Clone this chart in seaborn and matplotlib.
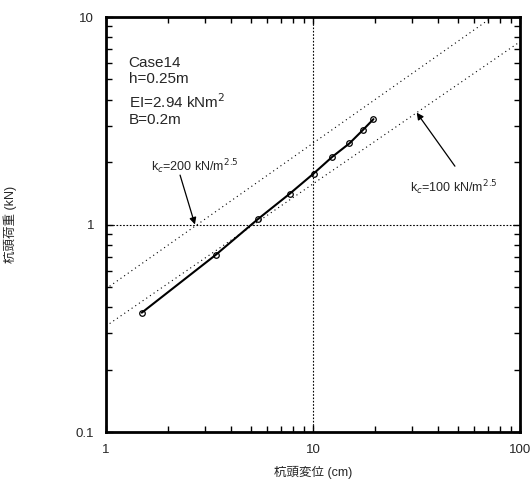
import numpy as np
import pandas as pd
import matplotlib
matplotlib.use("Agg")
import matplotlib.pyplot as plt
import seaborn as sns

# data
disp_cm = [1.49, 3.39, 5.41, 7.74, 10.07, 12.4, 15.0, 17.4, 19.6]
load_kN = [0.376, 0.714, 1.06, 1.41, 1.76, 2.12, 2.46, 2.85, 3.22]

ref_x = [1, 100]
ref_kc200 = [0.49, 12.4]
ref_kc100 = [0.324, 7.6]

xticks = [1, 10, 100]
xticklabels = ["1", "10", "100"]
yticks = [0.1, 1, 10]
yticklabels = ["0.1", "1", "10"]

sns.set_style("ticks")
plt.rcParams['font.family'] = ['Liberation Sans', 'Noto Sans CJK JP']

fig = plt.figure(figsize=(5.32, 4.79), dpi=100)
ax = fig.add_axes([0.1992, 0.0981, 0.7782, 0.8664])

df = pd.DataFrame({"x": disp_cm, "y": load_kN})
ref_df = pd.DataFrame({"x": ref_x + ref_x,
                       "y": ref_kc200 + ref_kc100,
                       "kc": ["200"] * 2 + ["100"] * 2})

ax.set_xscale("log")
ax.set_yscale("log")

for kc in ["200", "100"]:
    sub = ref_df[ref_df.kc == kc]
    sns.lineplot(data=sub, x="x", y="y", ax=ax, color="black", lw=0.8,
                 linestyle=(0, (1, 3)), legend=False)

ax.axvline(10, color="black", lw=0.8, linestyle=(0, (1.5, 1.5)))
ax.axhline(1, color="black", lw=0.8, linestyle=(0, (1.5, 1.5)))

sns.lineplot(data=df, x="x", y="y", ax=ax, color="black", lw=1.5,
             marker="o", markersize=4, markerfacecolor="none",
             markeredgecolor="black", markeredgewidth=0.9, legend=False)

ax.set_xlim(1, 100)
ax.set_ylim(0.1, 10)
ax.set_xticks(xticks)
ax.set_xticklabels(xticklabels)
ax.set_yticks(yticks)
ax.set_yticklabels(yticklabels)
ax.tick_params(which="both", direction="in", top=True, right=True, color="black")
ax.tick_params(which="major", length=5, width=1, labelsize=9.5, pad=8.5)
ax.tick_params(which="minor", length=4, width=1)
for s in ax.spines.values():
    s.set_linewidth(2)
    s.set_color("black")
ax.grid(False)

ax.set_xlabel("杭頭変位 (cm)", fontsize=9, labelpad=7)
ax.set_ylabel("杭頭荷重 (kN)", fontsize=9, labelpad=42)

ax.text(0.055, 0.905, "Case14\nh=0.25m", transform=ax.transAxes, fontsize=11,
        va="top", ha="left", linespacing=1.1)
ax.text(0.055, 0.818, "EI=2.94 kNm$^2$\nB=0.2m", transform=ax.transAxes, fontsize=11,
        va="top", ha="left", linespacing=1.15)

ax.text(2.69, 1.89, "k$_c$=200 kN/m$^{2.5}$", fontsize=9, ha="center", va="center")
ax.annotate("", xy=(2.69, 1.0), xytext=(2.28, 1.73),
            arrowprops=dict(arrowstyle="-|>", color="black", lw=0.9,
                            mutation_scale=10, shrinkA=0, shrinkB=0))
ax.text(47.7, 1.50, "k$_c$=100 kN/m$^{2.5}$", fontsize=9, ha="center", va="center")
ax.annotate("", xy=(31.7, 3.46), xytext=(48.5, 1.91),
            arrowprops=dict(arrowstyle="-|>", color="black", lw=0.9,
                            mutation_scale=10, shrinkA=0, shrinkB=0))

fig.savefig("out.png", dpi=100)
